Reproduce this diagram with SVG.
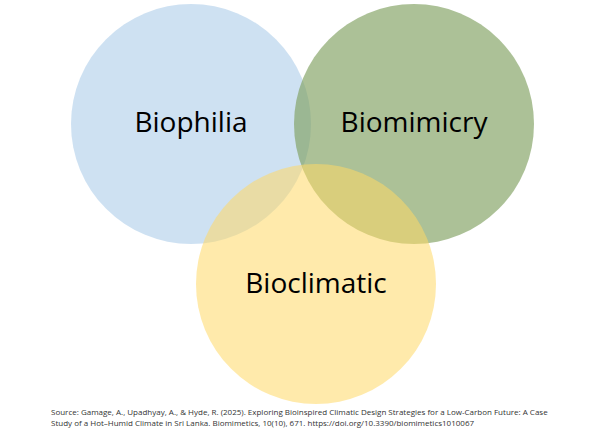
<svg xmlns="http://www.w3.org/2000/svg" width="610" height="438" viewBox="0 0 610 438">
<style>
.l{font-family:"Open Sans","Liberation Sans",sans-serif;font-size:28px;fill:#000;text-anchor:middle}
.s{font-family:"Open Sans","Liberation Sans",sans-serif;font-size:8px;fill:#333}
</style>
<rect width="610" height="438" fill="#fff"/>
<g id="biophilia"><circle cx="191" cy="124" r="120" fill="#bdd7ee" fill-opacity="0.75"/></g>
<g id="biomimicry"><circle cx="414" cy="124" r="120" fill="#7f9f5f" fill-opacity="0.65"/></g>
<g id="bioclimatic"><circle cx="316" cy="284" r="120" fill="#ffd966" fill-opacity="0.55"/></g>
<g id="labels">
<text class="l" x="191" y="132">Biophilia</text>
<text class="l" x="414" y="132">Biomimicry</text>
<text class="l" x="316" y="293">Bioclimatic</text>
</g>
<g id="connectors"/>
<text class="s" x="51" y="415">Source: Gamage, A., Upadhyay, A., &amp; Hyde, R. (2025). Exploring Bioinspired Climatic Design Strategies for a Low-Carbon Future: A Case</text>
<text class="s" x="51" y="426">Study of a Hot–Humid Climate in Sri Lanka. Biomimetics, 10(10), 671. https://doi.org/10.3390/biomimetics1010067</text>
</svg>
